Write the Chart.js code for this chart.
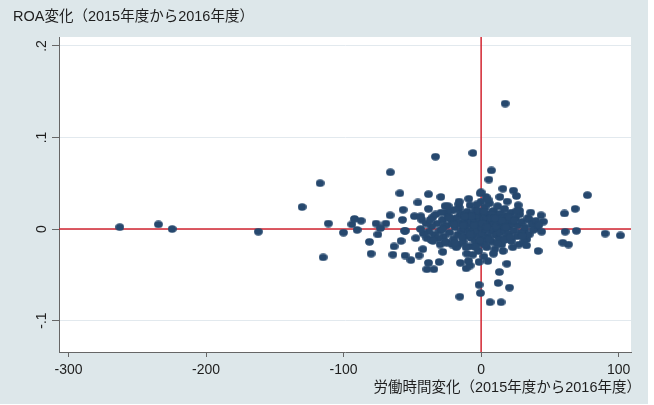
<!DOCTYPE html>
<html lang="ja">
<head>
  <meta charset="UTF-8">
  <title>ROA変化と労働時間変化</title>
  <style>
    html, body { margin: 0; padding: 0; background: #ffffff; }
    #wrap { width: 648px; height: 404px; }
  </style>
  <script src="https://cdn.jsdelivr.net/npm/chart.js"></script>
</head>
<body>
  <div id="wrap"><canvas id="scatter" width="648" height="404"></canvas></div>

  <script>
    // 労働時間変化 (x) と ROA変化 (y)、2015年度から2016年度
    const hoursChange = [
      -262.8, -234.7, -224.7, -162.0, -130.2, -117.1, -114.9, -111.1, -100.1, -94.0,
      -92.1, -87.3, -90.2, -81.2, -80.0, -76.4, -75.1, -69.3, -73.2, -66.0,
      -66.2, -63.3, -64.2, -59.1, -58.2, -56.7, -57.2, -55.3, -55.3, -51.1,
      -46.0, -48.5, -47.5, -45.1, -42.4, -43.1, -38.3, -38.3, -38.3, -39.5,
      -34.4, -33.2, -29.3, -30.5, -35.1, -26.2, -16.2, -15.5, -15.1, -10.9,
      -8.0, -6.0, -0.7, 3.6, 5.6, 7.5, -1.5, -0.5, 4.9, 6.5,
      14.5, 12.4, 20.6, 13.3, 18.7, 15.8, 13.6, 23.5, 25.7, 27.9,
      35.1, 43.6, 45.3, 40.0, 41.5, 33.2, 27.4, 17.5, 77.3, 68.4,
      60.6, 61.1, 69.3, 63.5, 90.2, 101.3, 59.4, 31.5, -25.5, -15.3,
      -43.9, -55.5, -39.5, -36.4, -29.8, -27.9, -24.9, -16.5, -10.4, -9.2,
      -1.5,
      // 中心部の密集
      -32, -30, -28, -27, -25, -24, -23, -22, -21, -20,
      -19, -18, -17, -16, -15, -14, -14, -13, -12, -12,
      -11, -10, -10, -9, -9, -8, -8, -7, -7, -6,
      -6, -5, -5, -4, -4, -3, -3, -2, -2, -1,
      -1, 0, 0, 0, 1, 1, 2, 2, 3, 3,
      4, 4, 5, 5, 6, 6, 7, 7, 8, 8,
      9, 9, 10, 10, 11, 11, 12, 12, 13, 13,
      14, 14, 15, 15, 16, 17, 17, 18, 18, 19,
      20, 20, 21, 22, 22, 23, 24, 25, 26, 27,
      28, 29, 30, 31, 32, 34, 35, 37, 38, 40,
      42, 44, -36, -34, -33, -38, -40, -26, -29, -18,
      -21, -11, -16, -6, 2, 5, 9, -24, 16, 23,
      27, 19, 33, 36, -3, -9, 0,
      -42, -37, -31, -27, -23, -19, -17, -13, -8, -5,
      -2, 1, 3, 6, 8, 11, 14, 17, 20, 24,
      -35, -28, -20, -14, -7, -1, 4, 7, 12, 15,
      18, 21, 26, 30, -44, -12, 10, -4, 2, -19
    ];
    const roaChange = [
      0.002, 0.005, 0.000, -0.003, 0.024, 0.050, -0.031, 0.006, -0.004, 0.005,
      0.011, 0.009, -0.001, -0.014, -0.027, 0.006, -0.006, 0.006, 0.001, 0.062,
      0.015, -0.019, -0.028, 0.039, -0.013, 0.021, 0.010, -0.002, -0.029, -0.034,
      0.029, 0.014, -0.010, -0.029, -0.022, 0.010, 0.038, 0.022, -0.037, -0.044,
      -0.044, 0.079, 0.035, -0.036, 0.013, 0.025, 0.027, -0.074, -0.037, -0.043,
      -0.040, 0.083, 0.039, 0.035, 0.054, 0.064, -0.061, -0.070, -0.035, -0.080,
      -0.080, -0.059, -0.064, -0.047, -0.038, 0.044, 0.035, 0.042, 0.036, 0.020,
      0.010, 0.015, 0.008, 0.001, -0.024, -0.011, -0.017, 0.137, 0.037, 0.022,
      0.017, -0.003, -0.002, -0.017, -0.005, -0.007, -0.015, -0.002, 0.018, 0.015,
      0.014, -0.002, -0.010, -0.012, -0.017, -0.025, -0.015, -0.017, -0.027, -0.035,
      -0.036,
      0.006, -0.002, 0.010, -0.008, 0.004, 0.014, -0.004, 0.020, 0.008, -0.011,
      0.002, 0.012, -0.006, 0.023, 0.006, -0.002, 0.017, -0.014, 0.010, 0.001,
      -0.008, 0.019, 0.005, -0.003, 0.013, -0.019, 0.026, 0.008, -0.010, 0.001,
      0.016, -0.006, 0.011, 0.021, -0.014, 0.004, -0.002, 0.014, -0.024, 0.008,
      -0.009, 0.030, 0.002, -0.016, 0.018, -0.005, 0.010, -0.012, 0.024, 0.000,
      -0.020, 0.013, 0.006, -0.008, 0.028, 0.017, -0.003, 0.003, 0.011, -0.014,
      0.020, -0.001, 0.007, -0.022, 0.015, -0.007, 0.001, 0.025, -0.011, 0.009,
      0.017, -0.004, 0.004, -0.017, 0.012, -0.001, 0.022, 0.007, -0.009, 0.015,
      -0.005, 0.002, 0.010, -0.013, 0.018, 0.005, -0.002, 0.012, -0.008, 0.004,
      0.016, -0.004, 0.008, -0.014, 0.002, 0.012, -0.006, 0.005, -0.001, 0.009,
      0.004, -0.003, 0.003, -0.006, 0.016, -0.003, 0.006, -0.014, 0.018, -0.020,
      -0.017, -0.020, 0.030, -0.028, -0.030, 0.032, -0.027, 0.025, -0.024, -0.020,
      0.026, 0.030, -0.018, 0.018, 0.027, 0.033, 0.040,
      -0.005, 0.010, -0.010, 0.003, 0.012, -0.015, 0.007, 0.004, -0.006, 0.004,
      0.020, 0.006, -0.017, -0.011, 0.016, 0.003, 0.008, -0.012, 0.013, 0.009,
      -0.013, 0.000, 0.005, -0.009, 0.014, -0.013, 0.002, 0.012, -0.016, 0.009,
      0.002, -0.009, 0.020, -0.008, 0.000, 0.014, 0.012, -0.020, 0.019, 0.021
    ];
    const xTicks = [-300, -200, -100, 0, 100];
    const yTicks = [-0.1, 0, 0.1, 0.2];
    const yTitle = 'ROA変化（2015年度から2016年度）';
    const xTitle = '労働時間変化（2015年度から2016年度）';

    const FONT = '"Liberation Sans", Arial, "Noto Sans CJK JP", sans-serif';
    const BG = '#dde7ea';
    const NAVY = '#26486e';

    // slightly flattened dot like the original marker
    const dot = document.createElement('canvas');
    dot.width = 9; dot.height = 8;
    const dctx = dot.getContext('2d');
    dctx.fillStyle = NAVY;
    dctx.beginPath();
    dctx.ellipse(4.5, 4, 4.4, 3.7, 0, 0, Math.PI * 2);
    dctx.fill();

    const points = hoursChange.map((x, i) => ({ x: x, y: roaChange[i] }));

    function fmtY(v) {
      if (v === 0) return '0';
      return v.toFixed(1).replace('0.', '.');
    }

    const frame = {
      id: 'frame',
      beforeDraw(chart) {
        const { ctx, chartArea: a } = chart;
        ctx.save();
        ctx.fillStyle = BG;
        ctx.fillRect(0, 0, chart.width, chart.height);
        ctx.fillStyle = '#ffffff';
        ctx.fillRect(a.left, a.top, a.right - a.left, a.bottom - a.top);
        ctx.restore();
      },
      beforeDatasetsDraw(chart) {
        const { ctx, chartArea: a, scales } = chart;
        const x0 = scales.x.getPixelForValue(0);
        const y0 = scales.y.getPixelForValue(0);
        ctx.save();
        ctx.strokeStyle = '#d22530';
        ctx.lineWidth = 1.5;
        ctx.beginPath();
        ctx.moveTo(x0, a.top); ctx.lineTo(x0, a.bottom);
        ctx.moveTo(a.left, y0); ctx.lineTo(a.right, y0);
        ctx.stroke();
        ctx.restore();
      },
      afterDraw(chart) {
        const { ctx, scales } = chart;
        ctx.save();
        ctx.fillStyle = '#1e1e1e';
        ctx.font = '14.5px ' + FONT;
        ctx.textBaseline = 'middle';
        ctx.textAlign = 'left';
        ctx.fillText(yTitle, 13, 17);
        ctx.textAlign = 'right';
        ctx.fillText(xTitle, 641, 388);
        // rotated y tick labels
        ctx.font = '14px ' + FONT;
        ctx.textAlign = 'center';
        yTicks.forEach(v => {
          const y = scales.y.getPixelForValue(v);
          ctx.save();
          ctx.translate(42, y);
          ctx.rotate(-Math.PI / 2);
          ctx.fillText(fmtY(v), 0, 0);
          ctx.restore();
        });
        ctx.restore();
      }
    };

    new Chart(document.getElementById('scatter'), {
      type: 'scatter',
      data: {
        datasets: [{
          data: points,
          pointStyle: dot,
          pointRadius: 4,
          backgroundColor: NAVY,
          borderColor: NAVY
        }]
      },
      options: {
        responsive: false,
        animation: false,
        devicePixelRatio: 1,
        layout: { padding: { left: 0, top: 37, right: 17, bottom: 0 } },
        plugins: { legend: { display: false }, tooltip: { enabled: false } },
        scales: {
          x: {
            type: 'linear',
            min: -307,
            max: 109,
            afterBuildTicks: s => { s.ticks = xTicks.map(v => ({ value: v })); },
            afterFit: s => { s.height = 52; },
            ticks: {
              color: '#1e1e1e',
              font: { size: 14, family: FONT },
              padding: 5,
              maxRotation: 0,
              autoSkip: false
            },
            grid: { drawOnChartArea: false, tickLength: 5, tickColor: '#666' },
            border: { color: '#666', width: 1 }
          },
          y: {
            type: 'linear',
            min: -0.1344,
            max: 0.2098,
            afterBuildTicks: s => { s.ticks = yTicks.map(v => ({ value: v })); },
            afterFit: s => { s.width = 59; },
            ticks: { display: false },
            grid: { color: '#e2e9ee', lineWidth: 1, tickLength: 7, tickColor: '#666' },
            border: { color: '#666', width: 1 }
          }
        }
      },
      plugins: [frame]
    });
  </script>
</body>
</html>
